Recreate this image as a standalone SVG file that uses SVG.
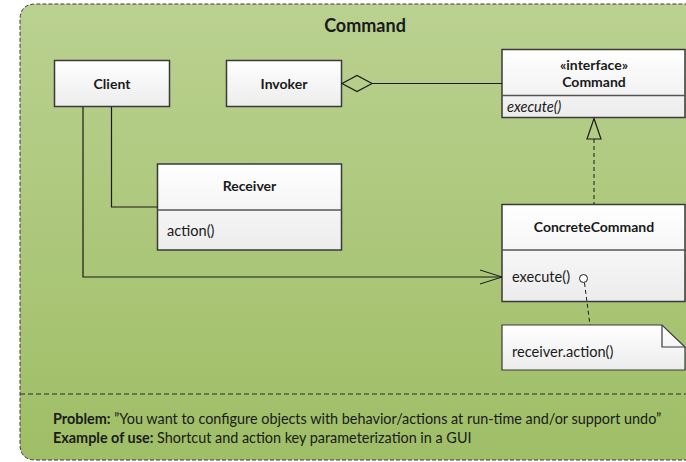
<svg xmlns="http://www.w3.org/2000/svg" width="686" height="462" viewBox="0 0 686 462">
  <defs>
    <linearGradient id="bg" x1="0" y1="0" x2="0" y2="1">
      <stop offset="0" stop-color="#bad190"/>
      <stop offset="1" stop-color="#9fbe66"/>
    </linearGradient>
    <linearGradient id="boxFill" x1="0" y1="0" x2="0" y2="1">
      <stop offset="0" stop-color="#ffffff"/>
      <stop offset="1" stop-color="#ececec"/>
    </linearGradient>
    <marker id="openArrow" viewBox="0 0 24 16" refX="22" refY="8" markerWidth="24" markerHeight="16" markerUnits="userSpaceOnUse" orient="auto">
      <path d="M0,1 L22,8 L0,15" fill="none" stroke="#1a1a1a" stroke-width="1"/>
    </marker>
  </defs>
  <style>
    text { font-family: Lato, "Liberation Sans", sans-serif; fill: #1a1a1a; }
    .title { font-size: 18px; font-weight: bold; text-anchor: middle; }
    .name { font-size: 14px; font-weight: bold; text-anchor: middle; }
    .member { font-size: 14.6px; }
    .foot { font-size: 14.4px; }
    .box { fill: url(#boxFill); stroke: #3a3a3a; stroke-width: 1.5; }
    .sep { stroke: #555555; stroke-width: 1.5; }
    .wire { fill: none; stroke: #1a1a1a; stroke-width: 1.2; }
    .dash { fill: none; stroke: #1a1a1a; stroke-width: 1; stroke-dasharray: 4 3; }
  </style>

  <!-- pattern frame -->
  <g id="frame">
    <path d="M36,460 Q20,460 20,444 L20,20 Q20,4 36,4 L700,4 L700,460 Z" fill="url(#bg)"/>
    <path d="M700,460 L36,460 Q20,460 20,444 L20,20 Q20,4 36,4 L700,4" fill="none" stroke="#3a3a3a" stroke-width="1" stroke-dasharray="4 2"/>
    <line x1="20" y1="394" x2="686" y2="394" stroke="#2a2a2a" stroke-width="1" stroke-dasharray="5 3"/>
    <text class="title" x="365" y="32">Command</text>
  </g>

  <g id="client">
    <rect class="box" x="54.5" y="60.5" width="115" height="46"/>
    <text class="name" x="112" y="88.5">Client</text>
  </g>

  <g id="invoker">
    <rect class="box" x="226.5" y="60.5" width="115" height="46"/>
    <text class="name" x="284" y="88.5">Invoker</text>
  </g>

  <g id="command">
    <rect class="box" x="502" y="49.5" width="183" height="68"/>
    <line class="sep" x1="502" y1="95.5" x2="685" y2="95.5"/>
    <text class="name" x="594" y="70">«interface»</text>
    <text class="name" x="594" y="87">Command</text>
    <text class="member" x="507" y="111.5" font-style="italic">execute()</text>
  </g>

  <g id="receiver">
    <rect class="box" x="157.5" y="164" width="184" height="86"/>
    <line class="sep" x1="157.5" y1="210" x2="341.5" y2="210"/>
    <text class="name" x="249.5" y="191">Receiver</text>
    <text class="member" x="167" y="235.5">action()</text>
  </g>

  <g id="concreteCommand">
    <rect class="box" x="502" y="204.5" width="183" height="97"/>
    <line class="sep" x1="502" y1="250" x2="685" y2="250"/>
    <text class="name" x="594" y="232">ConcreteCommand</text>
    <text class="member" x="512" y="281.5">execute()</text>
  </g>

  <g id="note">
    <path d="M502,325 L662,325 L685,347 L685,370 L502,370 Z" fill="url(#boxFill)" stroke="#3a3a3a" stroke-width="1.2"/>
    <path d="M662,325 L662,347 L685,347" fill="none" stroke="#3a3a3a" stroke-width="1.2"/>
    <text class="member" x="512" y="356.5">receiver.action()</text>
  </g>

  <!-- connectors, drawn over the boxes so the note anchor stays visible -->
  <g id="connectors">
    <!-- Client to Receiver -->
    <polyline class="wire" points="111.5,107 111.5,207 157,207"/>
    <!-- Client to ConcreteCommand -->
    <polyline class="wire" points="83,107 83,277 502,277" marker-end="url(#openArrow)"/>
    <!-- Invoker aggregates Command -->
    <path d="M342,83.5 L357,75.5 L372,83.5 L357,91.5 Z" fill="none" stroke="#1a1a1a" stroke-width="1.2"/>
    <line class="wire" x1="372" y1="83.5" x2="502" y2="83.5"/>
    <!-- ConcreteCommand realizes Command -->
    <line class="dash" x1="594" y1="139" x2="594" y2="204"/>
    <path d="M594,118.5 L601,139 L587,139 Z" fill="none" stroke="#1a1a1a" stroke-width="1.2"/>
    <!-- note attachment -->
    <circle cx="583.5" cy="278.5" r="4" fill="#ffffff" stroke="#1a1a1a" stroke-width="1"/>
    <line class="dash" x1="584.5" y1="283" x2="590" y2="325"/>
  </g>

  <g id="summary">
    <text class="foot" x="53" y="424"><tspan font-weight="bold">Problem:</tspan> ”You want to configure objects with behavior/actions at run-time and/or support undo”</text>
    <text class="foot" x="53" y="443"><tspan font-weight="bold">Example of use:</tspan> Shortcut and action key parameterization in a GUI</text>
  </g>
</svg>
